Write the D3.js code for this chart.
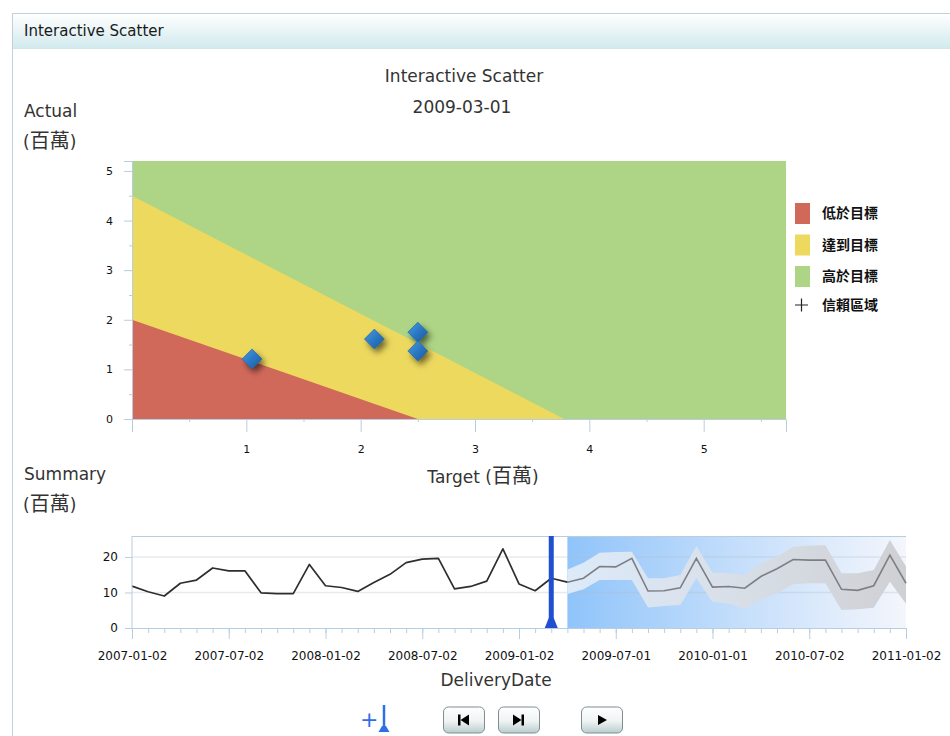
<!DOCTYPE html>
<html>
<head>
<meta charset="utf-8">
<script src="https://cdn.jsdelivr.net/npm/d3@7/dist/d3.min.js"></script>
<style>
  html, body { margin: 0; padding: 0; background: #fff; }
  svg { display: block; font-family: "DejaVu Sans", "Noto Sans", sans-serif; }
</style>
</head>
<body>
<svg id="chart" width="950" height="736"></svg>
<script>
// ---------- DATA ----------
const scatterTarget = [1.05, 2.12, 2.50, 2.50];
const scatterActual = [1.21, 1.61, 1.75, 1.37];
const redBoundary = [[0, 2.0], [2.5, 0]];          // 低於目標 region edge
const yellowBoundary = [[0, 4.5], [3.78, 0]];      // 達到目標 region edge
const legendLabels = ["低於目標", "達到目標", "高於目標", "信賴區域"];
const legendColors = ["#d1695a", "#eed95f", "#add585"];
const xTicksTop = [1, 2, 3, 4, 5];
const yTicksTop = [0, 1, 2, 3, 4, 5];

const months = [
  "2007-01","2007-02","2007-03","2007-04","2007-05","2007-06","2007-07","2007-08","2007-09","2007-10","2007-11","2007-12",
  "2008-01","2008-02","2008-03","2008-04","2008-05","2008-06","2008-07","2008-08","2008-09","2008-10","2008-11","2008-12",
  "2009-01","2009-02","2009-03","2009-04","2009-05","2009-06","2009-07","2009-08","2009-09","2009-10","2009-11","2009-12",
  "2010-01","2010-02","2010-03","2010-04","2010-05","2010-06","2010-07","2010-08","2010-09","2010-10","2010-11","2010-12",
  "2011-01"
];
const dateTickMonths = ["2007-01","2007-07","2008-01","2008-07","2009-01","2009-07","2010-01","2010-07","2011-01"];
const dateTickLabels = ["2007-01-02","2007-07-02","2008-01-02","2008-07-02","2009-01-02","2009-07-01","2010-01-01","2010-07-02","2011-01-02"];
const actualValues = [11.8,10.2,9.0,12.6,13.5,16.9,16.1,16.1,9.9,9.7,9.7,17.9,11.9,11.4,10.3,12.8,15.1,18.4,19.4,19.6,11.0,11.7,13.2,22.3,12.4,10.5,14.0,12.9];
const forecastStart = "2009-04";
const forecastValues = [12.9,14.0,17.3,17.2,19.6,10.4,10.5,11.3,19.6,11.5,11.7,11.2,14.5,16.7,19.3,19.1,19.1,10.9,10.6,11.9,20.5,12.6];
const forecastUpper = [16.5,18.4,21.2,21.4,21.5,14.0,14.0,14.9,23.1,15.6,15.4,14.9,18.2,20.1,22.9,23.2,23.3,15.4,15.4,16.3,24.8,17.3];
const forecastLower = [9.6,10.9,13.5,13.5,13.5,5.8,6.2,6.5,14.0,7.4,6.9,5.5,7.9,9.8,12.3,12.6,12.6,5.1,5.3,5.7,13.0,6.8];
const summaryTicks = [0, 10, 20];
const currentMonth = "2009-03";

// ---------- SETUP ----------
const svg = d3.select("#chart");
const defs = svg.append("defs");
const CJK = "'Noto Sans CJK TC', sans-serif";
const LATIN = "'DejaVu Sans', sans-serif";

const hdrGrad = defs.append("linearGradient").attr("id", "hdr").attr("x1", 0).attr("y1", 0).attr("x2", 0).attr("y2", 1);
hdrGrad.append("stop").attr("offset", "0%").attr("stop-color", "#ffffff");
hdrGrad.append("stop").attr("offset", "100%").attr("stop-color", "#d2eaee");

const fcGrad = defs.append("linearGradient").attr("id", "fc").attr("x1", 0).attr("y1", 0).attr("x2", 1).attr("y2", 0);
fcGrad.append("stop").attr("offset", "0%").attr("stop-color", "#90c4fa");
fcGrad.append("stop").attr("offset", "50%").attr("stop-color", "#c4defb");
fcGrad.append("stop").attr("offset", "100%").attr("stop-color", "#f4f6fc");

const bandGrad = defs.append("linearGradient").attr("id", "band").attr("gradientUnits", "userSpaceOnUse")
  .attr("x1", 567).attr("y1", 0).attr("x2", 906).attr("y2", 0);
bandGrad.append("stop").attr("offset", "0%").attr("stop-color", "#dceaf9");
bandGrad.append("stop").attr("offset", "45%").attr("stop-color", "#d9e0e9");
bandGrad.append("stop").attr("offset", "100%").attr("stop-color", "#cfd0d4");

const dGrad = defs.append("linearGradient").attr("id", "dia").attr("x1", 0).attr("y1", 0).attr("x2", 1).attr("y2", 1);
dGrad.append("stop").attr("offset", "0%").attr("stop-color", "#4a9ae0");
dGrad.append("stop").attr("offset", "50%").attr("stop-color", "#2a78c4");
dGrad.append("stop").attr("offset", "100%").attr("stop-color", "#185a9c");

const shadow = defs.append("filter").attr("id", "shd").attr("x", "-60%").attr("y", "-60%").attr("width", "220%").attr("height", "220%");
shadow.append("feDropShadow").attr("dx", 3).attr("dy", 4).attr("stdDeviation", 3).attr("flood-color", "#000").attr("flood-opacity", 0.55);

const btnGrad = defs.append("linearGradient").attr("id", "btn").attr("x1", 0).attr("y1", 0).attr("x2", 0).attr("y2", 1);
btnGrad.append("stop").attr("offset", "0%").attr("stop-color", "#ffffff");
btnGrad.append("stop").attr("offset", "55%").attr("stop-color", "#eef3f3");
btnGrad.append("stop").attr("offset", "100%").attr("stop-color", "#b9cccd");

// helper: Latin text with CJK part
function unitLabel(sel, latin, cjkSize) {
  sel.append("tspan").text(latin + "(");
  sel.append("tspan").attr("font-family", CJK).attr("font-size", cjkSize).text("百萬");
  sel.append("tspan").text(")");
}

// Panel & header
svg.append("rect").attr("x", 12.5).attr("y", 13.5).attr("width", 950).attr("height", 740)
  .attr("fill", "#fff").attr("stroke", "#c6cfd8");
svg.append("rect").attr("x", 13).attr("y", 14).attr("width", 937).attr("height", 34).attr("fill", "url(#hdr)");
svg.append("line").attr("x1", 13).attr("x2", 950).attr("y1", 48.5).attr("y2", 48.5).attr("stroke", "#d6e4e8");
svg.append("text").attr("x", 24).attr("y", 36).attr("font-size", 15).attr("fill", "#1a1a1a").text("Interactive Scatter");

// Titles
svg.append("text").attr("x", 464).attr("y", 82).attr("text-anchor", "middle").attr("font-size", 17).attr("fill", "#333").text("Interactive Scatter");
svg.append("text").attr("x", 462).attr("y", 113).attr("text-anchor", "middle").attr("font-size", 17).attr("fill", "#333").text("2009-03-01");
svg.append("text").attr("x", 24).attr("y", 117).attr("font-size", 17).attr("fill", "#333").text("Actual");
unitLabel(svg.append("text").attr("x", 23).attr("y", 148).attr("font-size", 17).attr("fill", "#333"), "", 20);

// ---------- TOP SCATTER ----------
const x = d3.scaleLinear().domain([0, 5.72]).range([132, 786]);
const y = d3.scaleLinear().domain([0, 5.2]).range([419, 161]);

const topG = svg.append("g");
topG.append("rect").attr("x", x(0)).attr("y", y(5.2)).attr("width", x(5.72) - x(0)).attr("height", y(0) - y(5.2)).attr("fill", legendColors[2]);
const poly = d3.line().x(d => x(d[0])).y(d => y(d[1]));
topG.append("path").attr("d", poly([[0, 0], yellowBoundary[0], yellowBoundary[1]]) + "Z").attr("fill", legendColors[1]);
topG.append("path").attr("d", poly([[0, 0], redBoundary[0], redBoundary[1]]) + "Z").attr("fill", legendColors[0]);

// axes
const axisColor = "#b9cde0";
const xAxisG = topG.append("g").attr("transform", `translate(0,${y(0)})`)
  .call(d3.axisBottom(x).tickValues([0, ...xTicksTop]).tickSize(13).tickFormat(d => d === 0 ? "" : d3.format("d")(d)));
xAxisG.attr("font-family", LATIN);
xAxisG.select(".domain").attr("stroke", axisColor);
xAxisG.selectAll(".tick line").attr("stroke", axisColor);
xAxisG.selectAll(".tick text").attr("font-size", 11).attr("fill", "#111").attr("dy", "1.65em");
const xMinor = topG.append("g").attr("transform", `translate(0,${y(0)})`)
  .call(d3.axisBottom(x).tickValues([0.5, 1.5, 2.5, 3.5, 4.5, 5.5]).tickSize(3).tickFormat(""));
xMinor.select(".domain").remove();
xMinor.selectAll(".tick line").attr("stroke", axisColor);

const yAxisG = topG.append("g").attr("transform", `translate(${x(0)},0)`)
  .call(d3.axisLeft(y).tickValues(yTicksTop).tickSize(8).tickPadding(11).tickFormat(d3.format("d")));
yAxisG.attr("font-family", LATIN);
yAxisG.select(".domain").attr("stroke", axisColor);
yAxisG.selectAll(".tick line").attr("stroke", axisColor);
yAxisG.selectAll(".tick text").attr("font-size", 11).attr("fill", "#111");
const yMinor = topG.append("g").attr("transform", `translate(${x(0)},0)`)
  .call(d3.axisLeft(y).tickValues([0.5, 1.5, 2.5, 3.5, 4.5]).tickSize(3).tickFormat(""));
yMinor.select(".domain").remove();
yMinor.selectAll(".tick line").attr("stroke", axisColor);

// diamonds
const pts = scatterTarget.map((t, i) => [t, scatterActual[i]]);
topG.selectAll("path.dia").data(pts).join("path").attr("class", "dia")
  .attr("transform", d => `translate(${x(d[0])},${y(d[1])})`)
  .attr("d", "M0,-10L10,0L0,10L-10,0Z")
  .attr("fill", "url(#dia)").attr("stroke", "#1d5f9f").attr("stroke-width", 0.6)
  .attr("filter", "url(#shd)");

unitLabel(svg.append("text").attr("x", 483).attr("y", 483).attr("text-anchor", "middle").attr("font-size", 17).attr("fill", "#333"), "Target ", 20);

// legend
const leg = svg.append("g").attr("transform", "translate(795,203)");
legendLabels.forEach((lab, i) => {
  const g = leg.append("g").attr("transform", `translate(0,${i < 3 ? i * 31.5 : 98})`);
  if (i < 3) {
    g.append("rect").attr("width", 15).attr("height", 21).attr("fill", legendColors[i]);
  } else {
    g.append("path").attr("d", "M0,4H13M6.5,-2.5V10.5").attr("stroke", "#222").attr("stroke-width", 1.2);
  }
  g.append("text").attr("x", 27).attr("y", i < 3 ? 15 : 9).attr("font-size", 14).attr("font-weight", "bold")
    .attr("font-family", CJK).attr("fill", "#111").text(lab);
});

// ---------- BOTTOM SUMMARY ----------
svg.append("text").attr("x", 24).attr("y", 480).attr("font-size", 17).attr("fill", "#333").text("Summary");
unitLabel(svg.append("text").attr("x", 23).attr("y", 511).attr("font-size", 17).attr("fill", "#333"), "", 20);

const xs = d3.scalePoint().domain(months).range([132, 906]);
const ys = d3.scaleLinear().domain([0, 25.9]).range([628, 536]);
const bot = svg.append("g");

// forecast background gradient
bot.append("rect").attr("x", xs(forecastStart)).attr("y", ys(25.9)).attr("width", xs(months[months.length - 1]) - xs(forecastStart))
  .attr("height", ys(0) - ys(25.9)).attr("fill", "url(#fc)");

// gridlines
bot.selectAll("line.grid").data([10, 20]).join("line").attr("class", "grid")
  .attr("x1", 132).attr("x2", 906).attr("y1", d => ys(d)).attr("y2", d => ys(d))
  .attr("stroke", "#b0b8c4").attr("stroke-opacity", 0.3).attr("stroke-width", 1.5);

// border top
bot.append("line").attr("x1", 132).attr("x2", 906).attr("y1", ys(25.9) + 0.5).attr("y2", ys(25.9) + 0.5).attr("stroke", axisColor);

// band
const fcMonths = months.slice(months.indexOf(forecastStart));
const bandData = fcMonths.map((m, i) => ({ m, v: forecastValues[i], hi: forecastUpper[i], lo: forecastLower[i] }));
bot.append("path").datum(bandData)
  .attr("d", d3.area().x(d => xs(d.m)).y0(d => ys(d.lo)).y1(d => ys(d.hi)))
  .attr("fill", "url(#band)");
bot.append("path").datum(bandData)
  .attr("d", d3.line().x(d => xs(d.m)).y(d => ys(d.v)))
  .attr("fill", "none").attr("stroke", "#7d7f84").attr("stroke-width", 1.6);

// actual line
bot.append("path").datum(actualValues.map((v, i) => [months[i], v]))
  .attr("d", d3.line().x(d => xs(d[0])).y(d => ys(d[1])))
  .attr("fill", "none").attr("stroke", "#2e2e2e").attr("stroke-width", 1.7).attr("stroke-linejoin", "round");

// axes
const ysAxis = bot.append("g").attr("transform", "translate(132,0)")
  .call(d3.axisLeft(ys).tickValues(summaryTicks).tickSize(7).tickPadding(7));
ysAxis.attr("font-family", LATIN);
ysAxis.select(".domain").attr("stroke", axisColor).attr("d", `M0,${ys(25.9)}V${ys(0)}`);
ysAxis.selectAll(".tick line").attr("stroke", axisColor);
ysAxis.selectAll(".tick text").attr("font-size", 12).attr("fill", "#111");

const xsMinor = bot.append("g").attr("transform", `translate(0,${ys(0)})`)
  .call(d3.axisBottom(xs).tickValues(months).tickSize(5).tickFormat(""));
xsMinor.select(".domain").attr("stroke", axisColor);
xsMinor.selectAll(".tick line").attr("stroke", axisColor);
const xsMajor = bot.append("g").attr("transform", `translate(0,${ys(0)})`)
  .call(d3.axisBottom(xs).tickValues(dateTickMonths).tickSize(11).tickPadding(12)
    .tickFormat(d => dateTickLabels[dateTickMonths.indexOf(d)]));
xsMajor.attr("font-family", LATIN);
xsMajor.select(".domain").remove();
xsMajor.selectAll(".tick line").attr("stroke", axisColor);
xsMajor.selectAll(".tick text").attr("font-size", 12).attr("fill", "#111");

// current marker
const cx = xs(currentMonth);
bot.append("rect").attr("x", cx - 2.5).attr("y", ys(25.9)).attr("width", 5).attr("height", ys(0) - ys(25.9) - 3).attr("fill", "#2050d0");
bot.append("path").attr("d", `M${cx - 6.5},${ys(0)}L${cx + 6.5},${ys(0)}L${cx + 2.5},${ys(0) - 10}L${cx - 2.5},${ys(0) - 10}Z`).attr("fill", "#2050d0");

svg.append("text").attr("x", 496).attr("y", 686).attr("text-anchor", "middle").attr("font-size", 17).attr("fill", "#333").text("DeliveryDate");

// ---------- CONTROLS ----------
const ctl = svg.append("g");
ctl.append("text").attr("x", 360).attr("y", 727).attr("font-size", 22).attr("fill", "#2f6fe6").text("+");
ctl.append("path").attr("d", "M384,705V728").attr("stroke", "#2f6fe6").attr("stroke-width", 2.5);
ctl.append("path").attr("d", "M378.5,732L389.5,732L386,726L382,726Z").attr("fill", "#2f6fe6");

const buttons = [{ x: 443, icon: "first" }, { x: 498, icon: "last" }, { x: 581, icon: "play" }];
buttons.forEach(b => {
  const g = ctl.append("g").attr("transform", `translate(${b.x},706.5)`);
  g.append("rect").attr("x", 0.5).attr("y", 0.5).attr("width", 41).attr("height", 26).attr("rx", 5)
    .attr("fill", "url(#btn)").attr("stroke", "#7d8f90");
  const ic = g.append("g").attr("fill", "#000");
  if (b.icon === "first") {
    ic.append("rect").attr("x", 15).attr("y", 8).attr("width", 2.5).attr("height", 11);
    ic.append("path").attr("d", "M17.5,13.5L26,8V19Z");
  } else if (b.icon === "last") {
    ic.append("path").attr("d", "M15,8L23.5,13.5L15,19Z");
    ic.append("rect").attr("x", 23.5).attr("y", 8).attr("width", 2.5).attr("height", 11);
  } else {
    ic.append("path").attr("d", "M17,8.5L26,13.5L17,18.5Z");
  }
});
</script>
</body>
</html>
